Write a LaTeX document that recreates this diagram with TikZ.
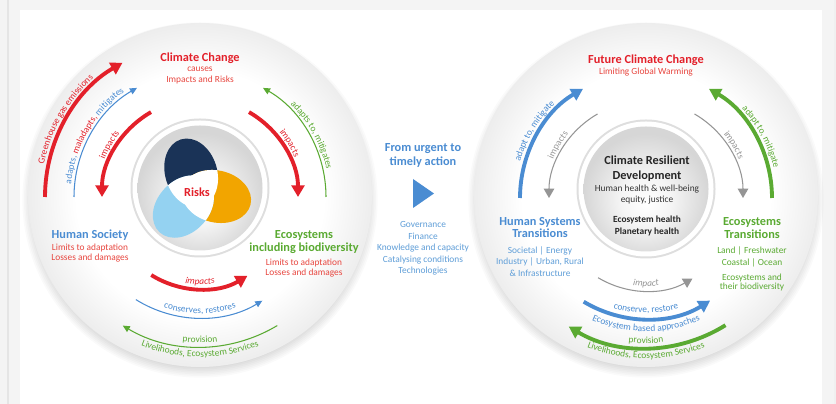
\documentclass[tikz,border=0pt]{standalone}
\usepackage{fontspec}
\setmainfont{Carlito}
\usepackage{tikz}
\usetikzlibrary{arrows.meta, calc, decorations.text}
\usepackage{xcolor}
\definecolor{ccred}{HTML}{E3202A}
\definecolor{cclred}{HTML}{E8463F}
\definecolor{ccblue}{HTML}{4A8CD2}
\definecolor{cclblue}{HTML}{5F9ED8}
\definecolor{ccgreen}{HTML}{5AAA32}
\definecolor{ccgray}{HTML}{959595}
\definecolor{ccnavy}{HTML}{1A3357}
\definecolor{ccorange}{HTML}{F2A500}
\definecolor{ccsky}{HTML}{94D2F1}
\definecolor{ccback}{HTML}{F4F4F4}
\pgfdeclareradialshading{diskshade}{\pgfpoint{0bp}{0bp}}{color(0bp)=(white); color(18bp)=(white); color(25bp)=(black!7); color(50bp)=(black!7)}
\pgfdeclareradialshading{hubshade}{\pgfpoint{0bp}{-6bp}}{color(0bp)=(white); color(10bp)=(black!4); color(25bp)=(black!16); color(50bp)=(black!16)}
\newcommand{\arcfont}{\fontsize{8}{9}\selectfont}
\newcommand{\arcfontit}{\fontsize{8}{9}\selectfont\itshape}

\begin{document}
\begin{tikzpicture}[x=0.03cm, y=0.03cm,
  title/.style={font=\bfseries\fontsize{10.5}{11}\selectfont, align=center, inner sep=0pt},
  small/.style={font=\fontsize{8}{9.6}\selectfont, align=center, inner sep=0pt},
  bigarrow/.style={line width=3.3pt, -{Triangle[length=10pt,width=11pt]}},
  thinarrow/.style={line width=0.9pt, -{Triangle[length=6pt,width=5.5pt]}},
  grayarrow/.style={draw=ccgray, line width=0.9pt, -{Triangle[length=8pt,width=9pt]}},
  arctext/.style={decorate, decoration={text along path, text align=center, text={#1}}}]
\useasboundingbox (0,0) rectangle (836,404);
% Background
\fill[ccback] (0,0) rectangle (836,404);
\fill[black!10] (7,0) rectangle (9,404);
\fill[white] (20,0) rectangle (822,394);
\fill[black!6] (834,0) rectangle (836,404);
% Centres
\coordinate (LD) at (200,209);
\coordinate (LA) at (200,207);
\coordinate (LH) at (200,216);
\coordinate (V) at (197,212);
\coordinate (RD) at (646,209);
\coordinate (RA) at (646,206);
\coordinate (RH) at (646,215);
% Disks
\foreach \c in {LD,RD} {
  \foreach \s in {0,...,6} \fill[black, opacity=0.018] ($(\c)+(0,-5)$) circle (168+\s*1.6);
  \shade[shading=diskshade] (\c) circle (172);
}
\foreach \c in {LH,RH} {
  \fill[black!13] (\c) circle (69.5);
  \fill[white] (\c) circle (67.5);
  \shade[shading=hubshade] (\c) circle (62.5);
}
% Risks
\begin{scope}[shift={(V)}]
  \fill[ccnavy, rotate=107] (20,0) ellipse [x radius=35, y radius=26];
  \fill[ccorange, rotate=-13] (20,0) ellipse [x radius=35, y radius=26];
  \fill[ccsky, rotate=227] (20,0) ellipse [x radius=35, y radius=26];
  \begin{scope}
    \clip[rotate=107] (20,0) ellipse [x radius=35, y radius=26];
    \fill[white, rotate=-13] (20,0) ellipse [x radius=35, y radius=26];
    \fill[white, rotate=227] (20,0) ellipse [x radius=35, y radius=26];
  \end{scope}
  \begin{scope}
    \clip[rotate=-13] (20,0) ellipse [x radius=35, y radius=26];
    \fill[white, rotate=227] (20,0) ellipse [x radius=35, y radius=26];
  \end{scope}
\end{scope}
\node[title, text=ccred] (risks) at (V) {Risks};
% Left arcs: upper
\draw[bigarrow, draw=ccred] ([shift={(LA)}]180:155) arc[start angle=180, end angle=120, radius=155];
\path[arctext={|\arcfont\color{ccred}|Greenhouse gas emissions}] ([shift={(LA)}]185:159.5) arc[start angle=185, end angle=115, radius=159.5];
\draw[thinarrow, draw=ccblue] ([shift={(LA)}]180:126) arc[start angle=180, end angle=120, radius=126];
\path[arctext={|\arcfont\color{ccblue}|adapts, |\arcfont\color{ccred}|maladapts, |\arcfont\color{ccblue}|mitigates}] ([shift={(LA)}]185:129.5) arc[start angle=185, end angle=115, radius=129.5];
\draw[bigarrow, draw=ccred] ([shift={(LA)}]120:98) arc[start angle=120, end angle=180, radius=98];
\path[arctext={|\arcfont\color{ccred}|impacts}] ([shift={(LA)}]175:102.5) arc[start angle=175, end angle=125, radius=102.5];
\draw[bigarrow, draw=ccred] ([shift={(LA)}]60:98) arc[start angle=60, end angle=0, radius=98];
\path[arctext={|\arcfont\color{ccred}|impacts}] ([shift={(LA)}]56:102.5) arc[start angle=56, end angle=6, radius=102.5];
\draw[thinarrow, draw=ccgreen] ([shift={(LA)}]0:126) arc[start angle=0, end angle=60, radius=126];
\path[arctext={|\arcfont\color{ccgreen}|adapts to, mitigates}] ([shift={(LA)}]62:129.5) arc[start angle=62, end angle=-4, radius=129.5];
% Left arcs: lower
\draw[bigarrow, draw=ccred] ([shift={(LA)}]-122:92) arc[start angle=-122, end angle=-59, radius=92];
\path[arctext={|\arcfontit\color{ccred}|impacts}] ([shift={(LA)}]-120:87.5) arc[start angle=-120, end angle=-60, radius=87.5];
\draw[thinarrow, draw=ccblue] ([shift={(LA)}]-122:121) arc[start angle=-122, end angle=-59, radius=121];
\path[arctext={|\arcfont\color{ccblue}|conserves, restores}] ([shift={(LA)}]-122:116.5) arc[start angle=-122, end angle=-58, radius=116.5];
\draw[thinarrow, draw=ccgreen] ([shift={(LA)}]-59:150) arc[start angle=-59, end angle=-121, radius=150];
\path[arctext={|\arcfont\color{ccgreen}|provision}] ([shift={(LA)}]-115:146) arc[start angle=-115, end angle=-65, radius=146];
\path[arctext={|\arcfont\color{ccgreen}|Livelihoods, Ecosystem Services}] ([shift={(LA)}]-127:160) arc[start angle=-127, end angle=-53, radius=160];
% Left labels
\node[title, text=ccred] (cc) at (200,346) {Climate Change};
\node[small, font=\fontsize{8}{8.6}\selectfont, text=cclred] (ccsub) at (200,328.5) {causes\\Impacts and Risks};
\node[title, text=ccblue] (hs) at (90,169) {Human Society};
\node[small, font=\fontsize{8}{8.6}\selectfont, text=cclred] (hssub) at (90,151) {Limits to adaptation\\Losses and damages};
\node[title, text=ccgreen] (eco) at (304,161.5) {Ecosystems\\including biodiversity};
\node[small, font=\fontsize{8}{8.6}\selectfont, text=cclred] (ecosub) at (304,136) {Limits to adaptation\\Losses and damages};
% Middle
\node[title, font=\bfseries\fontsize{10.5}{12.75}\selectfont, text=ccblue] (urgent) at (423,248.5) {From urgent to\\timely action};
\fill[ccblue] (413,225) -- (413,196) -- (434,210.5) -- cycle;
\node[small, font=\fontsize{8}{9.9}\selectfont, text=cclblue] (means) at (423,155.5) {Governance\\Finance\\Knowledge and capacity\\Catalysing conditions\\Technologies};
% Right arcs: upper
\draw[bigarrow, draw=ccblue] ([shift={(RA)}]180:126) arc[start angle=180, end angle=120, radius=126];
\path[arctext={|\arcfont\color{ccblue}|adapt to, mitigate}] ([shift={(RA)}]182:131) arc[start angle=182, end angle=116, radius=131];
\draw[grayarrow] ([shift={(RA)}]120:97) arc[start angle=120, end angle=180, radius=97];
\path[arctext={|\arcfont\color{ccgray}|impacts}] ([shift={(RA)}]175:100.5) arc[start angle=175, end angle=123, radius=100.5];
\draw[grayarrow] ([shift={(RA)}]60:97) arc[start angle=60, end angle=0, radius=97];
\path[arctext={|\arcfont\color{ccgray}|impacts}] ([shift={(RA)}]57:100.5) arc[start angle=57, end angle=5, radius=100.5];
\draw[bigarrow, draw=ccgreen] ([shift={(RA)}]0:126) arc[start angle=0, end angle=60, radius=126];
\path[arctext={|\arcfont\color{ccgreen}|adapt to, mitigate}] ([shift={(RA)}]61:131) arc[start angle=61, end angle=-5, radius=131];
% Right arcs: lower
\draw[grayarrow] ([shift={(RA)}]-121:93) arc[start angle=-121, end angle=-60, radius=93];
\path[arctext={|\arcfontit\color{ccgray}|impact}] ([shift={(RA)}]-115:88.5) arc[start angle=-115, end angle=-65, radius=88.5];
\draw[bigarrow, draw=ccblue] ([shift={(RA)}]-121:121) arc[start angle=-121, end angle=-58, radius=121];
\path[arctext={|\arcfont\color{ccblue}|conserve, restore}] ([shift={(RA)}]-120:115) arc[start angle=-120, end angle=-60, radius=115];
\path[arctext={|\arcfont\color{ccblue}|Ecosystem based approaches}] ([shift={(RA)}]-127:133.5) arc[start angle=-127, end angle=-53, radius=133.5];
\draw[bigarrow, draw=ccgreen] ([shift={(RA)}]-58:150) arc[start angle=-58, end angle=-121, radius=150];
\path[arctext={|\arcfont\color{ccgreen}|provision}] ([shift={(RA)}]-115:145.5) arc[start angle=-115, end angle=-65, radius=145.5];
\path[arctext={|\arcfont\color{ccgreen}|Livelihoods, Ecosystem Services}] ([shift={(RA)}]-127:160.5) arc[start angle=-127, end angle=-53, radius=160.5];
% Right labels
\node[title, text=ccred] (fcc) at (646,344) {Future Climate Change};
\node[small, text=cclred] (fccsub) at (646,332) {Limiting Global Warming};
\node[title, font=\bfseries\fontsize{10.5}{12.75}\selectfont, text=black!85] (crd) at (647,235.5) {Climate Resilient\\Development};
\node[small, font=\fontsize{8}{9.35}\selectfont, text=black!80] (crdsub) at (647,209.5) {Human health \& well-being\\equity, justice};
\node[small, font=\bfseries\fontsize{8}{10.2}\selectfont, text=black!85] (health) at (647,178) {Ecosystem health\\Planetary health};
\node[title, text=ccblue] (hst) at (540,176.5) {Human Systems\\Transitions};
\node[small, font=\fontsize{8}{9.8}\selectfont, text=cclblue] (hstsub) at (540,142.5) {Societal | Energy\\Industry | Urban, Rural\\\& Infrastructure};
\node[title, text=ccgreen] (est) at (752,175.5) {Ecosystems\\Transitions};
\node[small, font=\fontsize{8}{10.2}\selectfont, text=ccgreen] (estsub) at (752,147) {Land | Freshwater\\Coastal | Ocean};
\node[small, font=\fontsize{8}{8.1}\selectfont, text=ccgreen] (estbio) at (752,121.5) {Ecosystems and\\their biodiversity};
\end{tikzpicture}
\end{document}
